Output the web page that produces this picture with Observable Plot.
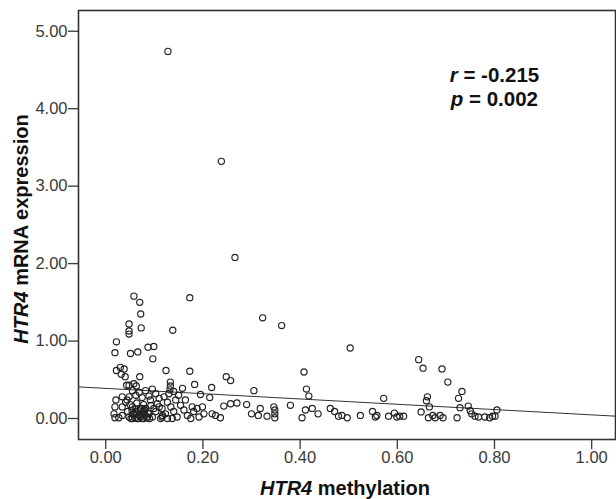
<!DOCTYPE html>
<html>
<head>
<meta charset="utf-8">
<script src="https://cdn.jsdelivr.net/npm/d3@7"></script>
<script src="https://cdn.jsdelivr.net/npm/@observablehq/plot@0.6"></script>
<style>
  html, body { margin: 0; padding: 0; background: #fff; }
  #chart { width: 616px; height: 499px; }
</style>
</head>
<body>
<div id="chart"></div>
<script>
// HTR4 methylation (x) vs HTR4 mRNA expression (y)
const methylation = [
  0.128, 0.238, 0.266, 0.173, 0.058, 0.070, 0.072, 0.048, 0.048, 0.048,
  0.073, 0.138, 0.323, 0.362, 0.022, 0.019, 0.051, 0.066, 0.087, 0.099,
  0.097, 0.503, 0.644, 0.653, 0.692, 0.704, 0.408,
  0.022, 0.030, 0.038, 0.032, 0.040, 0.070, 0.124, 0.173, 0.133, 0.133,
  0.132, 0.183, 0.218, 0.248, 0.257, 0.043, 0.048, 0.058, 0.063, 0.158,
  0.195, 0.214, 0.305, 0.413, 0.418, 0.733, 0.726, 0.662, 0.660, 0.572,
  0.021, 0.034, 0.041, 0.019, 0.017, 0.019, 0.027, 0.055, 0.069, 0.082,
  0.096, 0.103, 0.048, 0.062, 0.075, 0.089, 0.110, 0.034, 0.045, 0.034,
  0.048, 0.055, 0.062, 0.069, 0.075, 0.082, 0.089, 0.096, 0.103, 0.110,
  0.117, 0.055, 0.065, 0.079, 0.093, 0.106, 0.113, 0.058, 0.072, 0.086,
  0.099, 0.052, 0.060, 0.066, 0.071, 0.078, 0.084, 0.090, 0.057, 0.063,
  0.070, 0.076, 0.081, 0.087, 0.054, 0.061, 0.068, 0.074, 0.080, 0.050,
  0.064, 0.078, 0.092, 0.044,
  0.120, 0.127, 0.116, 0.123, 0.134, 0.140, 0.147, 0.137, 0.154, 0.161,
  0.168, 0.175, 0.181, 0.188, 0.192, 0.199, 0.202, 0.127, 0.116, 0.144,
  0.164, 0.178, 0.130, 0.150, 0.140,
  0.219, 0.226, 0.236, 0.243, 0.257, 0.270, 0.290, 0.300, 0.314, 0.318,
  0.332, 0.346, 0.348, 0.348, 0.348, 0.380, 0.404, 0.411, 0.425, 0.437,
  0.462, 0.471, 0.479, 0.486, 0.497, 0.524, 0.549, 0.555, 0.558, 0.582,
  0.594, 0.599, 0.605, 0.613, 0.666, 0.649, 0.664, 0.673, 0.678, 0.688,
  0.694, 0.723, 0.729, 0.746, 0.750, 0.753, 0.760, 0.767, 0.780, 0.796,
  0.801, 0.805, 0.790
];
const expression = [
  4.74, 3.32, 2.08, 1.56, 1.58, 1.50, 1.35, 1.22, 1.13, 1.09,
  1.17, 1.14, 1.30, 1.20, 0.99, 0.85, 0.84, 0.86, 0.92, 0.93,
  0.77, 0.91, 0.76, 0.65, 0.64, 0.47, 0.60,
  0.62, 0.66, 0.64, 0.57, 0.54, 0.54, 0.62, 0.61, 0.47, 0.42,
  0.37, 0.44, 0.40, 0.54, 0.49, 0.43, 0.43, 0.45, 0.42, 0.39,
  0.31, 0.27, 0.36, 0.38, 0.29, 0.35, 0.26, 0.28, 0.23, 0.26,
  0.24, 0.28, 0.21, 0.15, 0.06, 0.01, 0.01, 0.36, 0.34, 0.36,
  0.38, 0.32, 0.28, 0.30, 0.27, 0.29, 0.26, 0.15, 0.09, 0.04,
  0.02, 0.15, 0.09, 0.04, 0.00, 0.13, 0.06, 0.02, 0.09, 0.15,
  0.04, 0.00, 0.00, 0.09, 0.17, 0.19, 0.00, 0.06, 0.13, 0.02,
  0.13, 0.00, 0.01, 0.00, 0.02, 0.00, 0.01, 0.00, 0.05, 0.07,
  0.05, 0.08, 0.04, 0.07, 0.10, 0.12, 0.10, 0.13, 0.11, 0.18,
  0.20, 0.18, 0.24, 0.24,
  0.28, 0.21, 0.13, 0.06, 0.15, 0.09, 0.02, 0.00, 0.17, 0.11,
  0.04, 0.00, 0.09, 0.13, 0.02, 0.15, 0.06, 0.00, 0.02, 0.24,
  0.24, 0.15, 0.32, 0.30, 0.35,
  0.06, 0.04, 0.01, 0.16, 0.19, 0.20, 0.18, 0.06, 0.04, 0.13,
  0.03, 0.15, 0.11, 0.06, 0.01, 0.17, 0.01, 0.11, 0.13, 0.06,
  0.13, 0.09, 0.03, 0.04, 0.01, 0.04, 0.09, 0.02, 0.04, 0.03,
  0.07, 0.02, 0.03, 0.03, 0.15, 0.085, 0.01, 0.04, 0.01, 0.04,
  0.01, 0.01, 0.14, 0.16, 0.10, 0.06, 0.03, 0.02, 0.02, 0.03,
  0.03, 0.11, 0.01
];
// Fit line (as printed in the figure)
const fitIntercept = 0.389;
const fitSlope = -0.342;
const xTicks = [0, 0.2, 0.4, 0.6, 0.8, 1.0];
const yTicks = [0, 1, 2, 3, 4, 5];
const statLines = [
  {sym: "r", val: " = -0.215"},
  {sym: "p", val: " = 0.002"}
];

const points = methylation.map((m, i) => ({x: m, y: expression[i]}));
const xDomain = [-0.056, 1.049];
const fitLine = xDomain.map(x => ({x, y: fitIntercept + fitSlope * x}));
const font = "'Liberation Sans', Arial, Helvetica, sans-serif";
const fmt = d3.format(".2f");

const plot = Plot.plot({
  width: 616,
  height: 499,
  marginLeft: 78,
  marginRight: 1,
  marginTop: 10,
  marginBottom: 60,
  style: {fontFamily: font, fontSize: "16.5px", color: "#3a3a3a", background: "#fff", overflow: "visible"},
  x: {domain: xDomain},
  y: {domain: [-0.271, 5.268]},
  marks: [
    Plot.axisX({ticks: xTicks, tickFormat: fmt, tickSize: 10, tickPadding: 2, label: null, strokeWidth: 1.3}),
    Plot.axisY({ticks: yTicks, tickFormat: fmt, tickSize: 10, tickPadding: 1, label: null, strokeWidth: 1.3}),
    Plot.line(fitLine, {x: "x", y: "y", stroke: "#333", strokeWidth: 1}),
    Plot.dot(points, {x: "x", y: "y", r: 3.1, stroke: "#222", strokeWidth: 1.15, fill: "none"}),
    Plot.frame({stroke: "#333", strokeWidth: 1.6})
  ]
});

document.getElementById("chart").appendChild(plot);

const svg = d3.select(plot);
const sx = plot.scale("x"), sy = plot.scale("y");

// correlation statistics
const statX = sx.apply(0.709);
const statY = [sy.apply(4.34), sy.apply(4.03)];
statLines.forEach((s, i) => {
  const t = svg.append("text")
    .attr("x", statX + (i === 0 ? 0 : 1))
    .attr("y", statY[i])
    .attr("text-anchor", "start")
    .attr("font-family", font)
    .attr("font-size", 20.5)
    .attr("font-weight", "bold")
    .attr("fill", "#111");
  t.append("tspan").attr("font-style", "italic").text(s.sym);
  t.append("tspan").text(s.val);
});

// axis titles
const xt = svg.append("text")
  .attr("x", 345).attr("y", 495)
  .attr("text-anchor", "middle")
  .attr("font-family", font).attr("font-size", 20).attr("font-weight", "bold").attr("fill", "#111");
xt.append("tspan").attr("font-style", "italic").text("HTR4");
xt.append("tspan").text(" methylation");

const yt = svg.append("text")
  .attr("transform", "translate(28,229) rotate(-90)")
  .attr("text-anchor", "middle")
  .attr("font-family", font).attr("font-size", 20).attr("font-weight", "bold").attr("fill", "#111");
yt.append("tspan").attr("font-style", "italic").text("HTR4");
yt.append("tspan").text(" mRNA expression");
</script>
</body>
</html>
